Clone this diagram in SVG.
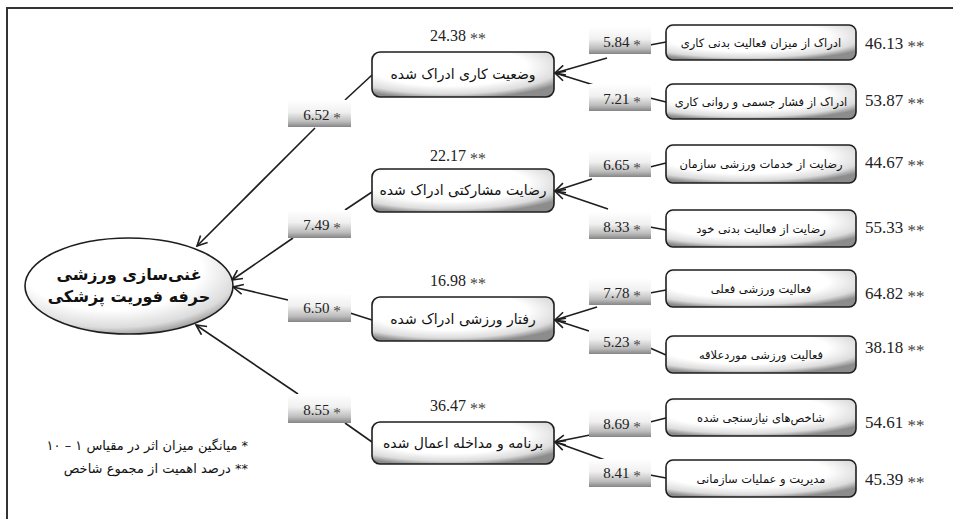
<svg xmlns="http://www.w3.org/2000/svg" width="953" height="519" viewBox="0 0 953 519">
<style>
.ln{stroke:#1e1e1e;stroke-width:1.6;fill:none}
.ar{marker-end:url(#ah)}
.vb{fill:url(#vg)}
.bx{fill:url(#bg);stroke:#1e1e1e;stroke-width:1.6}
.num{font-family:"Liberation Serif",serif;fill:#222}
.n17{font-size:17px}
.n16{font-size:16px}
.n15{font-size:15px}
.fa{font-family:"DejaVu Sans",sans-serif;fill:#111}
.mid{font-size:14px}
.ind{font-size:11.5px}
.st{baseline-shift:-0.2em;fill:#444}
</style>
<defs>
<linearGradient id="vg" x1="0" y1="0" x2="0" y2="1">
<stop offset="0" stop-color="#ffffff"/>
<stop offset="0.45" stop-color="#f0f0f0"/>
<stop offset="0.8" stop-color="#bcbcbc"/>
<stop offset="1" stop-color="#858585"/>
</linearGradient>
<radialGradient id="bg" cx="0.42" cy="0.32" r="0.72">
<stop offset="0" stop-color="#ffffff"/>
<stop offset="0.6" stop-color="#ffffff"/>
<stop offset="0.85" stop-color="#dcdcdc"/>
<stop offset="1" stop-color="#8c8c8c"/>
</radialGradient>
<marker id="ah" viewBox="0 0 12 12" refX="11" refY="6" markerWidth="12" markerHeight="12" orient="auto" markerUnits="userSpaceOnUse">
<path d="M1,1 L11,6 L1,11" fill="none" stroke="#1e1e1e" stroke-width="1.6"/>
</marker>
</defs>
<rect x="0" y="0" width="953" height="519" fill="#ffffff"/>
<path d="M7,519 L7,8 L953,8" fill="none" stroke="#333" stroke-width="2"/>

<g id="connectors">
<path class="ln ar" d="M315,128 L197,246"/>
<path class="ln ar" d="M293,238 L232,280"/>
<path class="ln ar" d="M288,300 L233,287"/>
<path class="ln ar" d="M298,394 L196,325"/>
<path class="ln" d="M345,100 L372,75"/>
<path class="ln" d="M345,210 L372,192"/>
<path class="ln" d="M350,313 L372,320"/>
<path class="ln" d="M345,423 L372,442"/>
<path class="ln ar" d="M607,58 L555,73"/>
<path class="ln ar" d="M597,86 L555,73"/>
<path class="ln ar" d="M592,179 L555,191"/>
<path class="ln ar" d="M608,209 L555,191"/>
<path class="ln ar" d="M597,307 L555,320"/>
<path class="ln ar" d="M589,331 L555,320"/>
<path class="ln ar" d="M590,435 L555,442"/>
<path class="ln ar" d="M605,460 L555,442"/>
<path class="ln" d="M650,45 L666,42"/>
<path class="ln" d="M650,98 L666,102"/>
<path class="ln" d="M650,167 L666,163"/>
<path class="ln" d="M650,227 L666,230"/>
<path class="ln" d="M650,293 L666,290"/>
<path class="ln" d="M650,348 L666,355"/>
<path class="ln" d="M650,422 L666,418"/>
<path class="ln" d="M650,475 L666,478"/>
</g>

<g id="goal">
<ellipse cx="129" cy="286" rx="104" ry="48" class="bx"/>
<text class="fa" x="129" y="280" text-anchor="middle" font-size="16" font-weight="bold" direction="rtl">غنی‌سازی ورزشی</text>
<text class="fa" x="129" y="302" text-anchor="middle" font-size="16" font-weight="bold" direction="rtl">حرفه فوریت پزشکی</text>
</g>

<g id="dim1">
<rect x="288" y="100" width="63" height="27" class="vb"/>
<text class="num n15" x="322" y="120" text-anchor="middle">6.52 <tspan class="st">*</tspan></text>
<rect x="372" y="52" width="182" height="45" rx="8" class="bx"/>
<text class="fa mid" x="463" y="79" text-anchor="middle" direction="rtl">وضعیت کاری ادراک شده</text>
<text class="num n16" x="458" y="41" text-anchor="middle">24.38 <tspan class="st">**</tspan></text>
</g>
<g id="dim2">
<rect x="288" y="210" width="63" height="28" class="vb"/>
<text class="num n15" x="322" y="230" text-anchor="middle">7.49 <tspan class="st">*</tspan></text>
<rect x="372" y="169" width="182" height="43" rx="8" class="bx"/>
<text class="fa mid" x="463" y="195" text-anchor="middle" direction="rtl">رضایت مشارکتی ادراک شده</text>
<text class="num n16" x="458" y="161" text-anchor="middle">22.17 <tspan class="st">**</tspan></text>
</g>
<g id="dim3">
<rect x="288" y="293" width="63" height="29" class="vb"/>
<text class="num n15" x="322" y="313" text-anchor="middle">6.50 <tspan class="st">*</tspan></text>
<rect x="372" y="297" width="182" height="44" rx="8" class="bx"/>
<text class="fa mid" x="463" y="324" text-anchor="middle" direction="rtl">رفتار ورزشی ادراک شده</text>
<text class="num n16" x="458" y="286" text-anchor="middle">16.98 <tspan class="st">**</tspan></text>
</g>
<g id="dim4">
<rect x="288" y="394" width="63" height="29" class="vb"/>
<text class="num n15" x="322" y="415" text-anchor="middle">8.55 <tspan class="st">*</tspan></text>
<rect x="372" y="422" width="182" height="42" rx="8" class="bx"/>
<text class="fa mid" x="463" y="448" text-anchor="middle" direction="rtl">برنامه و مداخله اعمال شده</text>
<text class="num n16" x="458" y="411" text-anchor="middle">36.47 <tspan class="st">**</tspan></text>
</g>

<g id="ind1">
<rect x="589" y="27" width="62" height="27" class="vb"/>
<text class="num n15" x="622" y="47" text-anchor="middle">5.84 <tspan class="st">*</tspan></text>
<rect x="666" y="25" width="190" height="35" rx="7" class="bx"/>
<text class="fa ind" x="761" y="47" text-anchor="middle" direction="rtl">ادراک از میزان فعالیت بدنی کاری</text>
<text class="num n17" x="865" y="49">46.13 <tspan class="st">**</tspan></text>
</g>
<g id="ind2">
<rect x="589" y="84" width="62" height="27" class="vb"/>
<text class="num n15" x="622" y="104" text-anchor="middle">7.21 <tspan class="st">*</tspan></text>
<rect x="666" y="84" width="190" height="35" rx="7" class="bx"/>
<text class="fa ind" x="761" y="106" text-anchor="middle" direction="rtl">ادراک از فشار جسمی و روانی کاری</text>
<text class="num n17" x="865" y="106">53.87 <tspan class="st">**</tspan></text>
</g>
<g id="ind3">
<rect x="589" y="150" width="62" height="27" class="vb"/>
<text class="num n15" x="622" y="170" text-anchor="middle">6.65 <tspan class="st">*</tspan></text>
<rect x="666" y="145" width="190" height="38" rx="7" class="bx"/>
<text class="fa ind" x="761" y="168" text-anchor="middle" direction="rtl">رضایت از خدمات ورزشی سازمان</text>
<text class="num n17" x="865" y="168">44.67 <tspan class="st">**</tspan></text>
</g>
<g id="ind4">
<rect x="589" y="212" width="62" height="27" class="vb"/>
<text class="num n15" x="622" y="232" text-anchor="middle">8.33 <tspan class="st">*</tspan></text>
<rect x="666" y="210" width="190" height="37" rx="7" class="bx"/>
<text class="fa ind" x="761" y="233" text-anchor="middle" direction="rtl">رضایت از فعالیت بدنی خود</text>
<text class="num n17" x="865" y="233">55.33 <tspan class="st">**</tspan></text>
</g>
<g id="ind5">
<rect x="589" y="278" width="62" height="27" class="vb"/>
<text class="num n15" x="622" y="298" text-anchor="middle">7.78 <tspan class="st">*</tspan></text>
<rect x="666" y="270" width="190" height="37" rx="7" class="bx"/>
<text class="fa ind" x="761" y="293" text-anchor="middle" direction="rtl">فعالیت ورزشی فعلی</text>
<text class="num n17" x="865" y="299">64.82 <tspan class="st">**</tspan></text>
</g>
<g id="ind6">
<rect x="589" y="327" width="62" height="27" class="vb"/>
<text class="num n15" x="622" y="347" text-anchor="middle">5.23 <tspan class="st">*</tspan></text>
<rect x="666" y="336" width="190" height="37" rx="7" class="bx"/>
<text class="fa ind" x="761" y="359" text-anchor="middle" direction="rtl">فعالیت ورزشی موردعلاقه</text>
<text class="num n17" x="865" y="353">38.18 <tspan class="st">**</tspan></text>
</g>
<g id="ind7">
<rect x="589" y="409" width="62" height="28" class="vb"/>
<text class="num n15" x="622" y="429" text-anchor="middle">8.69 <tspan class="st">*</tspan></text>
<rect x="666" y="399" width="190" height="37" rx="7" class="bx"/>
<text class="fa ind" x="761" y="422" text-anchor="middle" direction="rtl">شاخص‌های نیازسنجی شده</text>
<text class="num n17" x="865" y="428">54.61 <tspan class="st">**</tspan></text>
</g>
<g id="ind8">
<rect x="589" y="459" width="62" height="28" class="vb"/>
<text class="num n15" x="622" y="478" text-anchor="middle">8.41 <tspan class="st">*</tspan></text>
<rect x="666" y="460" width="190" height="37" rx="7" class="bx"/>
<text class="fa ind" x="761" y="483" text-anchor="middle" direction="rtl">مدیریت و عملیات سازمانی</text>
<text class="num n17" x="865" y="485">45.39 <tspan class="st">**</tspan></text>
</g>

<g id="legend">
<text class="fa" x="248" y="450" text-anchor="start" font-size="13" direction="rtl">* میانگین میزان اثر در مقیاس ۱ – ۱۰</text>
<text class="fa" x="248" y="473" text-anchor="start" font-size="13" direction="rtl">** درصد اهمیت از مجموع شاخص</text>
</g>
</svg>
